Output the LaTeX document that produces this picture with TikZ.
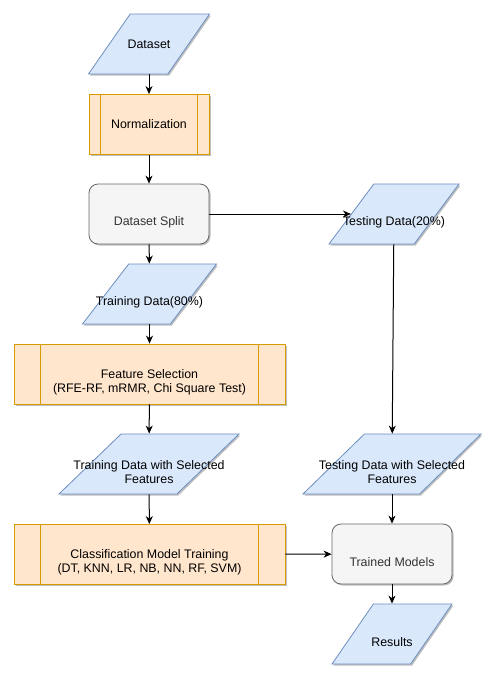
\documentclass[tikz,border=0pt]{standalone}
\usepackage{fontspec}
\setmainfont{Liberation Sans}
\usetikzlibrary{shapes.geometric,shadows,arrows.meta}

\definecolor{iofill}{HTML}{DAE8FC}
\definecolor{iostroke}{HTML}{6C8EBF}
\definecolor{prfill}{HTML}{FFE6CC}
\definecolor{prstroke}{HTML}{D79B00}
\definecolor{grfill}{HTML}{F5F5F5}
\definecolor{grstroke}{HTML}{666666}
\definecolor{grtext}{HTML}{333333}

\tikzset{
  boxshadow/.style={drop shadow={shadow xshift=1.5pt,shadow yshift=-1.5pt,opacity=0.25,fill=black}},
  iobox/.style={trapezium, trapezium left angle=71.57, trapezium right angle=108.43,
    trapezium stretches=true, minimum height=60pt, inner xsep=1pt,
    draw=iostroke, fill=iofill, line width=0.8pt, boxshadow},
  prbox/.style={rectangle, minimum height=60pt, draw=prstroke, fill=prfill, line width=0.8pt, boxshadow},
  prline/.style={draw=prstroke, line width=0.8pt},
  grbox/.style={rectangle, rounded corners=9pt, minimum height=60pt, draw=grstroke, fill=grfill, line width=0.8pt, boxshadow},
  txt/.style={align=center, inner sep=0pt},
  arr/.style={-{Stealth[length=8pt,width=7pt,inset=2.5pt]}, line width=1pt}
}

\begin{document}
\begin{tikzpicture}[x=1pt,y=-1pt,font=\fontsize{12.4}{14.4}\selectfont]
\useasboundingbox (0,0) rectangle (498,683);

% left column
\node[iobox, minimum width=121pt] (data) at (149,44) {};
\node[txt] (data-t) at (data.center) {Dataset};
\node[prbox, minimum width=120pt] (norm) at (149,124.5) {};
\node[txt] (norm-t) at (norm.center) {Normalization};
\node[grbox, minimum width=120pt] (split) at (149,214) {};
\node[txt, text=grtext] (split-t) at ([yshift=-8pt]split.center) {Dataset Split};
\node[iobox, minimum width=134pt] (train) at (149.5,294) {};
\node[txt] (train-t) at ([yshift=-8pt]train.center) {Training Data(80\%)};
\node[prbox, minimum width=271pt] (fs) at (149.5,374) {};
\node[txt] (fs-t) at ([yshift=-8pt]fs.center) {Feature Selection\\(RFE-RF, mRMR, Chi Square Test)};
\node[iobox, minimum width=180pt] (trsel) at (149,464) {};
\node[txt] (trsel-t) at ([yshift=-8pt]trsel.center) {Training Data with Selected\\Features};
\node[prbox, minimum width=271pt] (cmt) at (149.5,554.5) {};
\node[txt] (cmt-t) at ([yshift=-8pt]cmt.center) {Classification Model Training\\(DT, KNN, LR, NB, NN, RF, SVM)};

% right column
\node[iobox, minimum width=130pt] (test) at (394,214) {};
\node[txt] (test-t) at ([yshift=-8pt]test.center) {Testing Data(20\%)};
\node[iobox, minimum width=178pt] (tesel) at (392,464) {};
\node[txt] (tesel-t) at ([yshift=-8pt]tesel.center) {Testing Data with Selected\\Features};
\node[grbox, minimum width=120pt] (model) at (392,554) {};
\node[txt, text=grtext] (model-t) at ([yshift=-8pt]model.center) {Trained Models};
\node[iobox, minimum width=120pt] (res) at (392,634) {};
\node[txt] (res-t) at ([yshift=-8pt]res.center) {Results};

% process side bars
\foreach \b/\d in {norm/12,fs/27,cmt/27}{
  \draw[prline] ([xshift=\d pt]\b.north west) -- ([xshift=\d pt]\b.south west);
  \draw[prline] ([xshift=-\d pt]\b.north east) -- ([xshift=-\d pt]\b.south east);
}

\draw[arr] (data) -- (norm);
\draw[arr] (norm) -- (split);
\draw[arr] (split) -- (train);
\draw[arr] (train) -- (fs);
\draw[arr] (fs) -- (trsel);
\draw[arr] (trsel) -- (cmt);
\draw[arr] (split) -- (test);
\draw[arr] (test) -- (tesel);
\draw[arr] (tesel) -- (model);
\draw[arr] (cmt) -- (model);
\draw[arr] (model) -- (res);
\end{tikzpicture}
\end{document}
